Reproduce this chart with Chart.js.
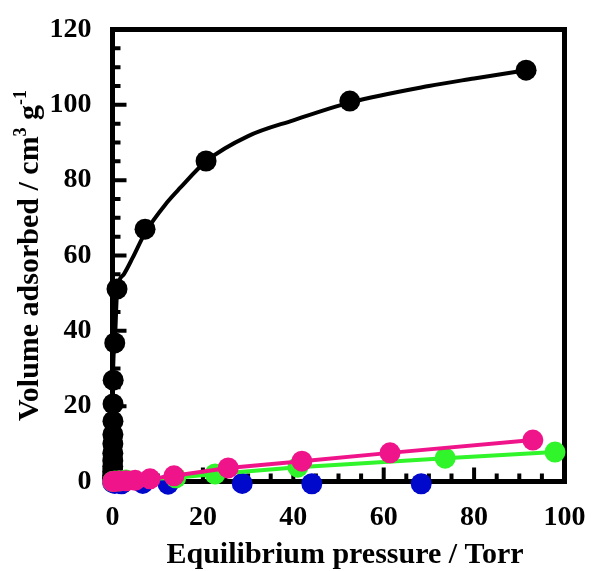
<!DOCTYPE html>
<html lang="en">
<head>
    <meta charset="UTF-8">
    <script src="https://cdn.jsdelivr.net/npm/chart.js"></script>
    <style>
        body { margin: 0; padding: 0; background: #fff; }
        #wrap { width: 592px; height: 571px; position: relative; }
    </style>
</head>
<body>
    <div id="wrap"><canvas id="iso"></canvas></div>
    <script>
        // isotherm data (pressure in Torr, volume in cm3/g)
        const blackX = [0.01, 0.02, 0.03, 0.04, 0.05, 0.06, 0.07, 0.08, 0.09, 0.1, 0.12, 0.15, 0.5, 1.0, 7.2, 20.7, 52.5, 91.5];
        const blackY = [0.2, 0.8, 1.6, 2.6, 4, 5.5, 7.5, 10, 12.5, 16, 20.6, 26.9, 36.8, 51.1, 67.0, 85.1, 101.0, 109.2];
        // the black fitted curve
        const fitX = [0, 0.1, 0.5, 1, 2.5, 4.5, 7.2, 12, 15, 20.7, 30, 40, 52.5, 70, 80, 91.5];
        const fitY = [0, 27, 37, 50, 55, 59.5, 66, 74, 78, 85, 91.7, 95.9, 100.6, 105, 107, 109.2];
        const pinkX = [0.05, 0.5, 1.5, 3, 5, 8.3, 13.6, 25.6, 41.9, 61.4, 93.0];
        const pinkY = [0, 0, 0.1, 0.2, 0.3, 0.7, 1.5, 3.6, 5.4, 7.6, 11.0];
        const greenX = [0.05, 0.5, 1.5, 3, 14, 22.7, 41.0, 73.6, 97.9];
        const greenY = [0, 0.1, 0.2, 0.4, 1.0, 2.0, 3.8, 6.2, 7.8];
        const blueX = [0.05, 0.5, 2, 6.7, 12.3, 28.7, 44.1, 68.3];
        const blueY = [-0.3, -0.5, -0.6, -0.5, -0.7, -0.5, -0.6, -0.6];
        const xTicks = [0, 20, 40, 60, 80, 100];
        const yTicks = [0, 20, 40, 60, 80, 100, 120];

        const pts = (xs, ys) => xs.map((v, i) => ({ x: v, y: ys[i] }));
        const serif = '"Liberation Serif", "Times New Roman", serif';

        // frame + inward ticks, drawn under the markers; axis titles on top
        const frame = {
            id: 'frame',
            beforeDatasetsDraw(chart) {
                const { ctx, chartArea: a, scales: { x, y } } = chart;
                ctx.save();
                ctx.strokeStyle = '#000';
                ctx.lineWidth = 4;
                ctx.beginPath();
                for (let v = 5; v < 100; v += 5) {
                    const px = x.getPixelForValue(v);
                    const len = v % 20 === 0 ? 14 : 8;
                    ctx.moveTo(px, a.bottom); ctx.lineTo(px, a.bottom - len);
                }
                for (let v = 5; v < 120; v += 5) {
                    const py = y.getPixelForValue(v);
                    const len = v % 20 === 0 ? 14 : 8;
                    ctx.moveTo(a.left, py); ctx.lineTo(a.left + len, py);
                }
                ctx.stroke();
                ctx.lineWidth = 5;
                ctx.strokeRect(a.left, a.top, a.right - a.left, a.bottom - a.top);
                ctx.restore();
            },
            afterDraw(chart) {
                const { ctx, chartArea: a } = chart;
                const big = 'bold 30px ' + serif, small = 'bold 18px ' + serif;
                ctx.save();
                ctx.fillStyle = '#000';
                ctx.textBaseline = 'alphabetic';
                // x title
                ctx.font = big;
                ctx.textAlign = 'center';
                ctx.fillText('Equilibrium pressure / Torr', 345, 563);
                // y title with superscripts
                ctx.textAlign = 'left';
                const parts = [['Volume adsorbed / cm', big, 0], ['3', small, -12], [' g', big, 0], ['-1', small, -12]];
                let w = 0;
                parts.forEach(p => { ctx.font = p[1]; w += ctx.measureText(p[0]).width; });
                ctx.translate(38, (a.top + a.bottom) / 2);
                ctx.rotate(-Math.PI / 2);
                let cx = -w / 2;
                parts.forEach(p => {
                    ctx.font = p[1];
                    ctx.fillText(p[0], cx, p[2]);
                    cx += ctx.measureText(p[0]).width;
                });
                ctx.restore();
            }
        };

        const ds = (label, data, color, order, line, radius) => ({
            label: label,
            data: data,
            showLine: line,
            borderColor: color,
            backgroundColor: color,
            pointBackgroundColor: color,
            pointBorderWidth: 0,
            pointRadius: radius,
            borderWidth: 4,
            tension: 0,
            clip: false,
            order: order
        });

        const fit = ds('black fit', pts(fitX, fitY), '#000000', 4, true, 0);
        fit.cubicInterpolationMode = 'monotone';

        const noPad = s => { s.paddingTop = 0; s.paddingBottom = 0; s.paddingLeft = 0; s.paddingRight = 0; };

        new Chart(document.getElementById('iso'), {
            type: 'scatter',
            data: {
                datasets: [
                    ds('pink', pts(pinkX, pinkY), '#f0148a', 0, true, 10.5),
                    ds('green', pts(greenX, greenY), '#30f52a', 1, true, 10.5),
                    ds('blue', pts(blueX, blueY), '#0008cc', 2, false, 10.5),
                    ds('black', pts(blackX, blackY), '#000000', 3, false, 10.5),
                    fit
                ]
            },
            options: {
                responsive: true,
                maintainAspectRatio: false,
                animation: false,
                layout: { autoPadding: false, padding: { top: 29.5, right: 27.5, left: 0, bottom: 0 } },
                plugins: { legend: { display: false }, tooltip: { enabled: false } },
                scales: {
                    x: {
                        type: 'linear', min: 0, max: 100,
                        afterFit(s) { s.height = 89.5; noPad(s); },
                        afterBuildTicks(s) { s.ticks = xTicks.map(v => ({ value: v })); },
                        grid: { display: false, drawTicks: false },
                        border: { display: false },
                        ticks: { color: '#000', padding: 19, maxRotation: 0, font: { family: serif, size: 28, weight: 'bold' } }
                    },
                    y: {
                        type: 'linear', min: 0, max: 120,
                        afterFit(s) { s.width = 112.5; noPad(s); },
                        afterBuildTicks(s) { s.ticks = yTicks.map(v => ({ value: v })); },
                        grid: { display: false, drawTicks: false },
                        border: { display: false },
                        ticks: { color: '#000', padding: 21, font: { family: serif, size: 28, weight: 'bold' } }
                    }
                }
            },
            plugins: [frame]
        });
    </script>
</body>
</html>
